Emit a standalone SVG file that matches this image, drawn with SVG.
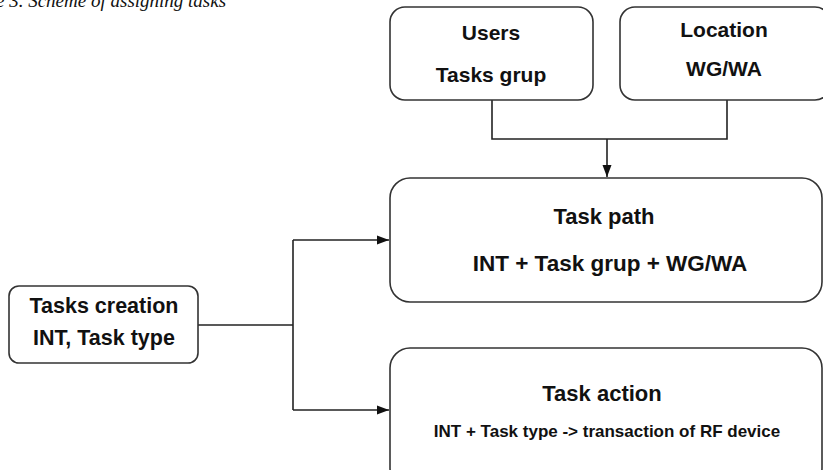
<svg xmlns="http://www.w3.org/2000/svg" width="823" height="470" viewBox="0 0 823 470">
<style>
.box{fill:#fff;stroke:#333;stroke-width:1.6}
.t{font-family:"Liberation Sans",Arial,sans-serif;font-weight:bold;fill:#111;text-anchor:middle}
.c{fill:none;stroke:#222;stroke-width:1.6}
.cap{font-family:"Liberation Serif","Times New Roman",serif;font-style:italic;font-size:19px;fill:#111}
</style>
<defs>
<marker id="arr" viewBox="0 0 12 10" refX="12" refY="5" markerWidth="12" markerHeight="10" markerUnits="userSpaceOnUse" orient="auto">
<path d="M0,0.5 L12,5 L0,9.5 Z" fill="#111"/>
</marker>
</defs>
<rect width="823" height="470" fill="#fff"/>
<text class="cap" x="-4" y="7">e 3. Scheme of assigning tasks</text>
<g id="connectors">
<path class="c" d="M492,100 V139 H727 V100"/>
<path class="c" d="M607,139 V177" marker-end="url(#arr)"/>
<path class="c" d="M198,325 H293"/>
<path class="c" d="M293,240 V410"/>
<path class="c" d="M293,240 H389" marker-end="url(#arr)"/>
<path class="c" d="M293,410 H389" marker-end="url(#arr)"/>
</g>
<g id="users">
<rect class="box" x="390" y="7" width="203" height="93" rx="15"/>
<text class="t" x="491" y="40" font-size="21">Users</text>
<text class="t" x="491" y="82" font-size="21">Tasks grup</text>
</g>
<g id="location">
<rect class="box" x="620" y="7" width="210" height="93" rx="15"/>
<text class="t" x="724" y="37" font-size="21">Location</text>
<text class="t" x="724" y="76" font-size="21">WG/WA</text>
</g>
<g id="task-path">
<rect class="box" x="390" y="178" width="432" height="124" rx="20"/>
<text class="t" x="604" y="224" font-size="22">Task path</text>
<text class="t" x="610" y="271" font-size="22.5">INT + Task grup + WG/WA</text>
</g>
<g id="tasks-creation">
<rect class="box" x="9" y="286" width="189" height="77" rx="10"/>
<text class="t" x="104" y="313" font-size="21.5">Tasks creation</text>
<text class="t" x="104" y="345" font-size="21.5">INT, Task type</text>
</g>
<g id="task-action">
<rect class="box" x="390" y="348" width="432" height="140" rx="20"/>
<text class="t" x="602" y="401" font-size="22">Task action</text>
<text class="t" x="607" y="437" font-size="17">INT + Task type -&gt; transaction of RF device</text>
</g>
</svg>
